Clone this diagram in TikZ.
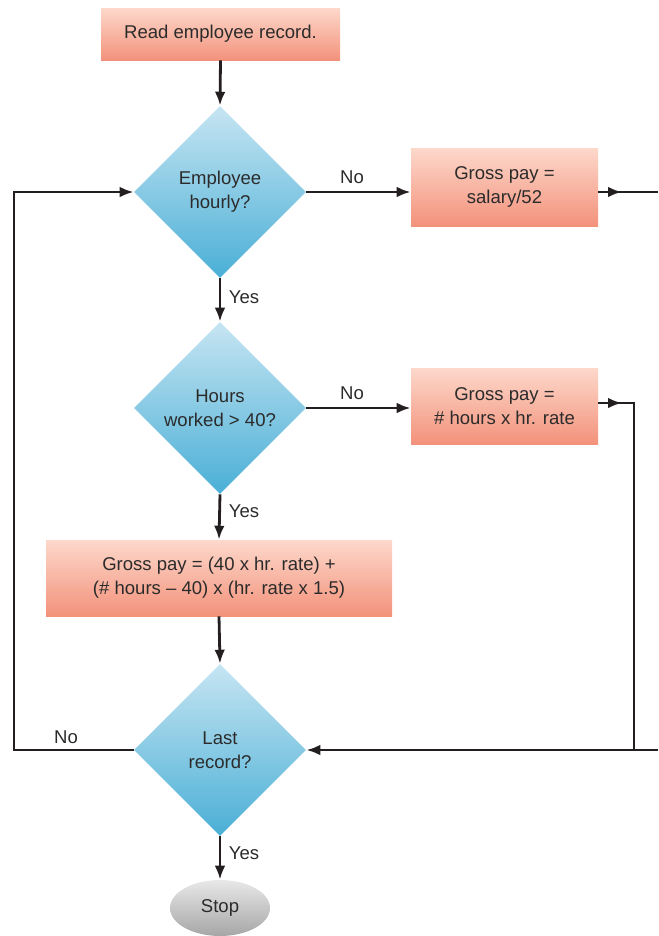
\documentclass[tikz,border=0pt]{standalone}
\usepackage{fontspec}
\setmainfont{Liberation Sans}
\usetikzlibrary{shapes.geometric,arrows.meta}
\definecolor{ink}{HTML}{231F20}
\definecolor{txt}{HTML}{2B2B2B}
\definecolor{boxtop}{HTML}{FDD8CB}
\definecolor{boxbot}{HTML}{F3927B}
\definecolor{dtop}{HTML}{C6E5F2}
\definecolor{dbot}{HTML}{4AAFD6}
\definecolor{stop1}{HTML}{E8E8E8}
\definecolor{stop2}{HTML}{A6A6A6}
\tikzset{
  every node/.style={text=txt, font=\fontsize{13.9}{18}\selectfont},
  procbox/.style={rectangle, top color=boxtop, bottom color=boxbot,
    inner sep=0pt, align=center},
  decision/.style={diamond, top color=dtop, bottom color=dbot,
    inner sep=0pt, minimum width=172*0.75pt, minimum height=172*0.75pt,
    align=center},
  terminal/.style={ellipse, top color=stop1, bottom color=stop2,
    inner sep=0pt, minimum width=100*0.75pt, minimum height=56*0.75pt},
  plain/.style={draw=ink, line width=2.1pt},
  flow/.style={plain, -{Latex[length=10.5pt,width=8pt]}},
  lbl/.style={inner sep=0pt}
}
\begin{document}
\begin{tikzpicture}[x=0.75pt, y=-0.75pt]
\useasboundingbox (0,0) rectangle (658,936);

% process boxes
\node[procbox, minimum width=239*0.75pt, minimum height=52*0.75pt]
  (read) at (220.5,34) {Read employee record.};
\node[procbox, minimum width=187*0.75pt, minimum height=78*0.75pt]
  (salary) at (504.5,187) {Gross pay =\\salary/52};
\node[procbox, minimum width=187*0.75pt, minimum height=76*0.75pt]
  (hourly) at (504.5,406) {Gross pay =\\\# hours x hr. rate};
\node[procbox, minimum width=346*0.75pt, minimum height=76*0.75pt]
  (overtime) at (219,578) {Gross pay = (40 x hr. rate) +\\(\# hours -- 40) x (hr. rate x 1.5)};

% decisions
\node[decision] (isHourly) at (220,192) {Employee\\hourly?};
\node[decision] (over40) at (220,408) {Hours\\worked > 40?};
\node[decision] (last) at (220,750) {Last\\record?};

% terminal
\node[terminal] (stop) at (220,908) {Stop};

% helper points for the loop-back lines
\coordinate (outA) at (622,192);
\coordinate (edgeA) at (658,192);
\coordinate (outB) at (622,403);
\coordinate (turnB) at (634,403);
\coordinate (joinB) at (634,750);
\coordinate (edgeC) at (658,750);
\coordinate (loopL) at (14,750);
\coordinate (loopT) at (14,192);

% main flow
\draw[flow] (read.south) -- (isHourly.north);
\draw[flow] (isHourly.east) -- (isHourly.east -| salary.west);
\draw[flow] (isHourly.south) -- (over40.north);
\draw[flow] (over40.east) -- (over40.east -| hourly.west);
\draw[flow] (over40.south) -- (overtime.north);
\draw[flow] (overtime.south) -- (last.north);
\draw[flow] (last.south) -- (stop.north);

% exits on the right: continuous line, arrowhead placed part way
\draw[plain] (salary.east |- outA) -- (edgeA);
\draw[flow] (salary.east |- outA) -- (outA);
\draw[plain, line join=miter] (hourly.east |- outB) -- (turnB) -- (joinB);
\draw[flow] (hourly.east |- outB) -- (outB);
\draw[flow] (edgeC) -- (last.east);

% loop back to the first decision
\draw[flow, line join=miter] (last.west) -- (loopL) -- (loopT) -- (isHourly.west);

% branch labels
\node[lbl] at (352,177) {No};
\node[lbl] at (352,393) {No};
\node[lbl] at (66,737) {No};
\node[lbl] at (244,297) {Yes};
\node[lbl] at (244,511) {Yes};
\node[lbl] at (244,853) {Yes};
\end{tikzpicture}
\end{document}
